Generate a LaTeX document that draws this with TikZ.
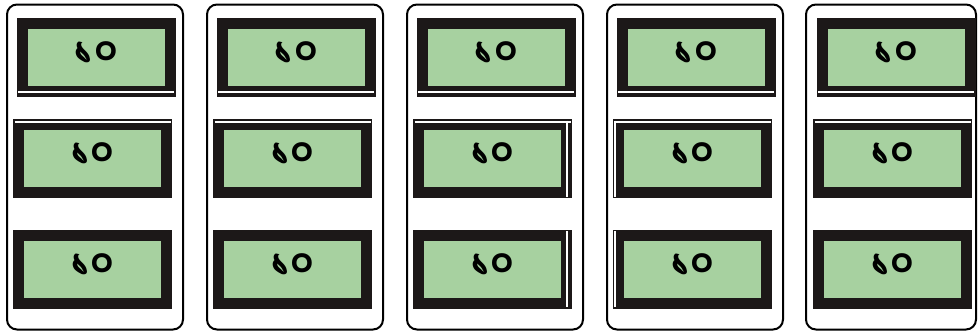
\documentclass[tikz,border=0pt]{standalone}
\usepackage{fontspec}
\newfontfamily\bengalifont[Script=Bengali]{Hind Siliguri}
\definecolor{lcdgreen}{RGB}{167,209,160}
\definecolor{framegray}{RGB}{28,24,24}
\newcommand{\tenlabel}{১০}

\begin{document}
\begin{tikzpicture}[
  x=1pt, y=-1pt,
  every node/.style={font=\bengalifont\bfseries\fontsize{40}{40}\selectfont},
  panel/.style={rectangle, draw=black, line width=2pt, rounded corners=10pt, minimum width=176pt, minimum height=325pt, inner sep=0pt, outer sep=0pt},
  lcd/.style={rectangle, fill=lcdgreen, draw=framegray, line width=11pt, minimum width=148pt, minimum height=68pt, inner sep=0pt, outer sep=0pt, label={[digit]center:\tenlabel}},
  digit/.style={yshift=4pt, text=black},
  stripe/.style={white, line width=2pt, shorten <=-4pt, shorten >=-4pt},
]
\useasboundingbox (0,0) rectangle (980,332);

% ---- panel 1 ----
\node[panel] (p1) at (95,167)   {};
\node[lcd]   (t1) at (96,57.5)  {};
\node[lcd]   (m1) at (92.5,158.5) {};
\node[lcd]   (b1) at (92.5,269) {};

% ---- panel 2 ----
\node[panel] (p2) at (295,167)   {};
\node[lcd]   (t2) at (296,57.5)  {};
\node[lcd]   (m2) at (292.5,158.5) {};
\node[lcd]   (b2) at (292.5,269) {};

% ---- panel 3 ----
\node[panel] (p3) at (495,167)   {};
\node[lcd]   (t3) at (496,57.5)  {};
\node[lcd]   (m3) at (492.5,158.5) {};
\node[lcd]   (b3) at (492.5,269) {};

% ---- panel 4 ----
\node[panel] (p4) at (695,167)   {};
\node[lcd]   (t4) at (696,57.5)  {};
\node[lcd]   (m4) at (692.5,158.5) {};
\node[lcd]   (b4) at (692.5,269) {};

% ---- panel 5 (a bit narrower) ----
\node[panel, minimum width=170pt] (p5) at (891,167) {};
\node[lcd]   (t5) at (896,57.5)  {};
\node[lcd]   (m5) at (892.5,158.5) {};
\node[lcd]   (b5) at (892.5,269) {};

% ---- white cuts in the frames ----
\draw[stripe] (t1.south west) -- (t1.south east);
\draw[stripe] (t2.south west) -- (t2.south east);
\draw[stripe] (t3.south west) -- (t3.south east);
\draw[stripe] (t4.south west) -- (t4.south east);
\draw[stripe] (t5.south west) -- (t5.south east);
\draw[stripe] ([yshift=2.5pt]m1.north west) -- ([yshift=2.5pt]m1.north east);
\draw[stripe] ([yshift=2.5pt]m2.north west) -- ([yshift=2.5pt]m2.north east);
\draw[stripe] ([yshift=2.5pt]m3.north west) -- ([yshift=2.5pt]m3.north east);
\draw[stripe] ([yshift=2.5pt]m4.north west) -- ([yshift=2.5pt]m4.north east);
\draw[stripe] ([yshift=2.5pt]m5.north west) -- ([yshift=2.5pt]m5.north east);
\draw[stripe] (m3.north east) -- (m3.south east);
\draw[stripe] (b3.north east) -- (b3.south east);
\draw[stripe] ([xshift=-3.5pt]m4.north west) -- ([xshift=-3.5pt]m4.south west);
\draw[stripe] ([xshift=-3.5pt]b4.north west) -- ([xshift=-3.5pt]b4.south west);

\end{tikzpicture}
\end{document}
